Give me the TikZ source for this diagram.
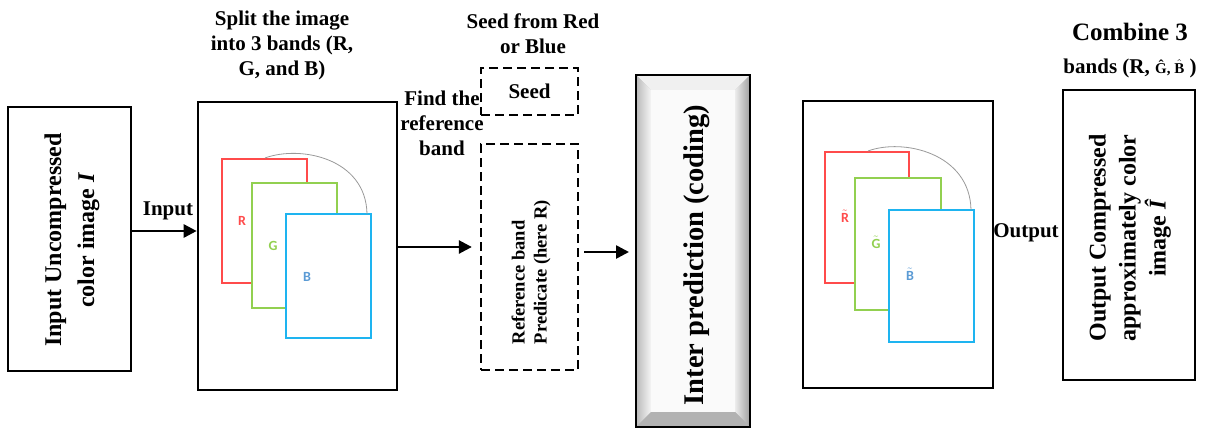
\documentclass[tikz,border=0pt]{standalone}
\usepackage{fontspec}
\usepackage{amsmath}
\setmainfont{Liberation Serif}
\newfontfamily\lblfont{Carlito}
\usetikzlibrary{arrows.meta}
\definecolor{rband}{HTML}{FF4B4B}
\definecolor{gband}{HTML}{92D050}
\definecolor{bband}{HTML}{1EB4F0}
\definecolor{rlbl}{HTML}{FF4B4B}
\definecolor{glbl}{HTML}{92D050}
\definecolor{blbl}{HTML}{5B9BD5}
\begin{document}
\begin{tikzpicture}[x=1pt,y=-1pt,
  box/.style={draw=black,line width=2.6pt,inner sep=0pt},
  dbox/.style={draw=black,line width=2.3pt,dash pattern=on 9pt off 5pt,inner sep=0pt},
  arr/.style={line width=2.6pt,-{Triangle[length=13pt,width=13pt]}},
  ttl/.style={font=\fontsize{21}{25}\selectfont\bfseries,align=center,inner sep=0pt},
  rtxt/.style={rotate=90,align=center,inner sep=0pt},
  band/.style={line width=1.2pt},
  blab/.style={font=\lblfont\fontsize{14}{14}\selectfont\bfseries,inner sep=0pt},
  arcline/.style={draw=gray!80,line width=0.8pt}
]
\useasboundingbox (0,0) rectangle (1221,428);

% ---------- input box ----------
\node[box,minimum width=123pt,minimum height=264pt] (inbox) at (69.5,239) {};
\node[rtxt,font=\fontsize{24}{33}\selectfont\bfseries] (intxt) at (72,240)
  {Input Uncompressed\\color image \textit{I}};

% ---------- split image box ----------
\node[box,minimum width=199pt,minimum height=288pt] (split) at (297.5,246) {};
\node[ttl] (splitttl) at (282,45) {Split the image\\into 3 bands (R,\\G, and B)};
\draw[band,rband] (222,159) rectangle (307,283);
\draw[band,gband,fill=white] (252,183) rectangle (337,308);
\draw[band,bband,fill=white] (286,214) rectangle (371,338);
\draw[arcline] (265,158) .. controls (300,145) and (366,158) .. (367,214);
\node[blab,text=rlbl] (lR) at (242,221) {R};
\node[blab,text=glbl] (lG) at (273,246) {G};
\node[blab,text=blbl] (lB) at (307,277) {B};

% ---------- seed / reference ----------
\node[ttl] (findttl) at (442,123) {Find the\\reference\\band};
\node[ttl] (seedttl) at (533,34) {Seed from Red\\or Blue};
\node[dbox,minimum width=97pt,minimum height=47pt,
      font=\fontsize{21}{25}\selectfont\bfseries] (seed) at (529.5,91.5) {Seed};
\node[dbox,minimum width=97pt,minimum height=226pt] (refb) at (529.5,257) {};
\node[rotate=90,align=left,inner sep=0pt,
      font=\fontsize{18.5}{22}\selectfont\bfseries] (reftxt) at (531,272)
  {Reference band\\Predicate (here R)};

% ---------- inter prediction (bevelled) ----------
\fill[gray!55] (636,75) rectangle (750,427);
\fill[gray!12] (636,75) -- (750,75) -- (735,90) -- (651,90) -- cycle;
\shade[left color=gray!55,right color=gray!8] (636,75) -- (651,90) -- (651,412) -- (636,427) -- cycle;
\shade[left color=gray!15,right color=gray!75] (750,75) -- (735,90) -- (735,412) -- (750,427) -- cycle;
\fill[gray!60] (636,427) -- (651,412) -- (735,412) -- (750,427) -- cycle;
\fill[gray!4] (651,90) rectangle (735,412);
\node[draw=black,line width=2pt,minimum width=114pt,minimum height=351pt,inner sep=0pt] (inter) at (693,251) {};
\node[rtxt,font=\fontsize{28.5}{32}\selectfont\bfseries] (intertxt) at (697,255)
  {Inter prediction (coding)};

% ---------- output image ----------
\node[box,minimum width=190pt,minimum height=287pt] (outimg) at (898,244.5) {};
\draw[band,rband] (825,152) rectangle (909,283);
\draw[band,gband,fill=white] (855,178) rectangle (941,310);
\draw[band,bband,fill=white] (889,210) rectangle (974,342);
\draw[arcline] (868,151) .. controls (903,138) and (970,153) .. (971,210);
\node[blab,text=rlbl] (lRt) at (845,216) {$\tilde{\text{R}}$};
\node[blab,text=glbl] (lGt) at (876,242) {$\tilde{\text{G}}$};
\node[blab,text=blbl] (lBt) at (910,274) {$\tilde{\text{B}}$};

% ---------- output box ----------
\node[ttl,font=\fontsize{25}{25}\selectfont\bfseries] (combttl) at (1130,32) {Combine 3};
\node[ttl] (bandsttl) at (1130,68)
  {bands (R, {\fontsize{15}{15}\selectfont Ĝ, $\hat{\text{B}}$} )};
\node[box,minimum width=132pt,minimum height=290pt] (outbox) at (1129,235) {};
\node[rtxt,font=\fontsize{24}{30}\selectfont\bfseries] (outtxt) at (1130,238)
  {Output Compressed\\approximately color\\image \textit{Î}};

% ---------- connectors & labels ----------
\draw[arr] ([yshift=8pt]inbox.east) coordinate (a1s) -- (a1s -| split.west);
\node[ttl] (inlbl) at (168,211) {Input};
\draw[arr,shorten >=8pt] ([yshift=-1pt]split.east) coordinate (a2s) -- (a2s -| refb.west);
\draw[arr,shorten <=5pt,shorten >=6pt] ([yshift=5pt]refb.east) coordinate (a3s) -- (a3s -| inter.west);
\node[ttl] (outlbl) at (1026,233) {Output};
\end{tikzpicture}
\end{document}
